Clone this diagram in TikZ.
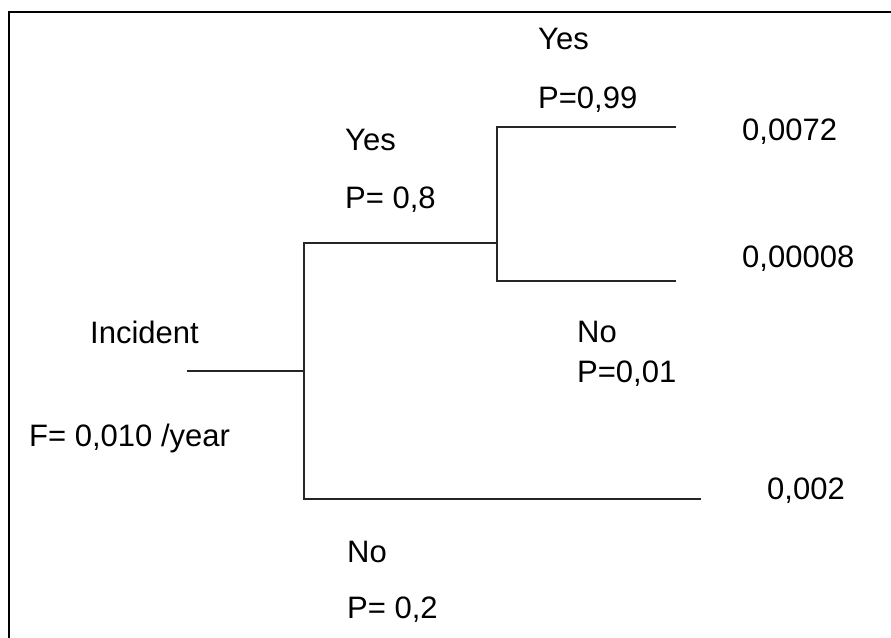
\documentclass[tikz,border=0pt]{standalone}
\usepackage{fontspec}
\setmainfont{Liberation Sans}
\begin{document}
\begin{tikzpicture}[x=1pt,y=-1pt,
  branch/.style={draw=black!85, line width=1.4pt, line cap=rect},
  frameline/.style={draw=black, line width=2pt},
  lbl/.style={anchor=base west, inner sep=0pt, font=\fontsize{31}{37}\selectfont}]
  \useasboundingbox (0,0) rectangle (891,637);
  \clip (0,0) rectangle (891,637);
  \fill[white] (0,0) rectangle (891,637);

  % outer frame (only its top and left sides fall inside the page)
  \draw[frameline] (9,660) -- (9,12) -- (910,12);

  % tree junctions and branch ends
  \coordinate (inc) at (188,371);
  \coordinate (j1)  at (304,371);
  \coordinate (j1t) at (304,243);
  \coordinate (j1b) at (304,499);
  \coordinate (j2)  at (497,243);
  \coordinate (j2t) at (497,127);
  \coordinate (j2b) at (497,281);
  \coordinate (e1)  at (675,127);
  \coordinate (e2)  at (675,281);
  \coordinate (e3)  at (700,499);

  % branches
  \draw[branch] (inc) -- (j1);
  \draw[branch] (j2) -- (j1t) -- (j1b) -- (e3);
  \draw[branch] (e1) -- (j2t) -- (j2b) -- (e2);

  % labels
  \node[lbl] (incident) at (90,343)  {Incident};
  \node[lbl] (freq)     at (29,446)  {F= 0,010 /year};
  \node[lbl] (yes1)     at (345,150) {Yes};
  \node[lbl] (p1)       at (345,208) {P= 0,8};
  \node[lbl] (no1)      at (347,562) {No};
  \node[lbl] (p2)       at (347,618) {P= 0,2};
  \node[lbl] (yes2)     at (538,49)  {Yes};
  \node[lbl] (p3)       at (538,108) {P=0,99};
  \node[lbl] (no2)      at (577,342) {No};
  \node[lbl] (p4)       at (577,382) {P=0,01};
  \node[lbl] (r1)       at (742,140) {0,0072};
  \node[lbl] (r2)       at (742,267) {0,00008};
  \node[lbl] (r3)       at (767,499) {0,002};
\end{tikzpicture}
\end{document}
